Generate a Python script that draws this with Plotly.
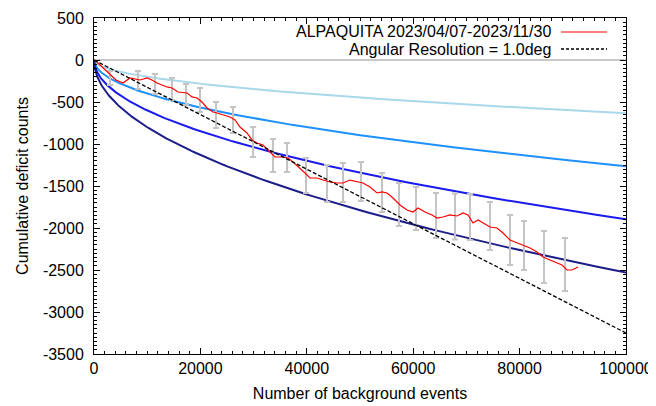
import numpy as np
import plotly.graph_objects as go

# ---- data ----
# Observed cumulative deficit (red)
obs_n = [0, 188, 1128, 2068, 3008, 4135, 5451, 6767, 8647, 9962, 10902, 11842, 12782,
         13722, 14662, 15789, 17481, 18421, 19361, 20301, 21241, 22368, 23120, 24248,
         25564, 26504, 27444, 28759, 29699, 30639, 31767, 32707, 34023, 35338, 36466,
         37406, 38722, 39662, 40602, 41917, 43045, 44361, 45677, 46805, 48120, 49436,
         50564, 51880, 53195, 54135, 55075, 56203, 57519, 58835, 59962, 60902, 62218,
         63534, 64474, 65602, 66917, 68233, 69361, 70301, 71241, 72180, 73120, 74436,
         75752, 76880, 78195, 79511, 80639, 81955, 83271, 84398, 85714, 87030, 87970,
         88910, 89850, 90977]
obs_def = [0, -5, -60, -119, -179, -238, -274, -214, -238, -214, -238, -274, -298,
           -321, -333, -381, -393, -440, -452, -500, -571, -619, -631, -655,
           -679, -714, -798, -869, -952, -988, -1012, -1071, -1155, -1155, -1167,
           -1214, -1286, -1345, -1405, -1405, -1429, -1452, -1464, -1464, -1429, -1452,
           -1464, -1512, -1583, -1571, -1583, -1643, -1726, -1786, -1810, -1762, -1810,
           -1845, -1881, -1869, -1845, -1857, -1821, -1845, -1940, -1905, -1940, -1988,
           -2000, -2060, -2143, -2179, -2202, -2238, -2286, -2345, -2381, -2417, -2440,
           -2500, -2500, -2464]

# Error bars (gray)
err_n = [3008, 8271, 11467, 14663, 17295, 19927, 22934, 26130, 29890, 33649, 36281,
         39852, 43800, 46807, 50191, 54138, 57334, 60530, 64290, 67861, 70681, 74441,
         78200, 80832, 84592, 88539]
err_c = [-214, -238, -286, -345, -411, -476, -655, -714, -976, -1137, -1161,
         -1375, -1470, -1458, -1446, -1577, -1720, -1768, -1851, -1863, -1869, -1976,
         -2143, -2208, -2345, -2435]
err_h = [83, 107, 119, 131, 125, 143, 155, 155, 179, 196, 173,
         208, 220, 232, 232, 232, 256, 256, 268, 274, 274, 286,
         298, 292, 310, 315]

# Expected deficit for angular resolution 1.0 deg (dashed line)
exp_n = [0, 100000]
exp_def = [0, -3250]

# Significance curves: -k * sqrt(N)
sigma_levels = [2, 4, 6, 8]
sigma_colors = ["#a8d8ea", "#1e90ff", "#1a1aee", "#1c1c8a"]

zero_n = [0, 100000]
zero_v = [0, 0]

legend_labels = ["ALPAQUITA 2023/04/07-2023/11/30", "Angular Resolution = 1.0deg"]

y_tick_vals = [500, 0, -500, -1000, -1500, -2000, -2500, -3000, -3500]
y_tick_text = ["500", "0", "-500", "-1000", "-1500", "-2000", "-2500", "-3000", "-3500"]
x_tick_vals = [0, 20000, 40000, 60000, 80000, 100000]
x_tick_text = ["0", "20000", "40000", "60000", "80000", "100000"]

# ---- figure ----
FONT = "Liberation Sans, Arial, Helvetica, sans-serif"
fig = go.Figure()

fig.add_trace(go.Scatter(x=zero_n, y=zero_v, mode="lines",
                         line=dict(color="#c8c8c8", width=2), showlegend=False))

grid = np.concatenate([[0.0], np.geomspace(1, 100000, 400)])
for k, c in zip(sigma_levels, sigma_colors):
    fig.add_trace(go.Scatter(x=grid, y=-k * np.sqrt(grid), mode="lines",
                             line=dict(color=c, width=2), showlegend=False))

fig.add_trace(go.Scatter(x=err_n, y=err_c, mode="markers",
                         marker=dict(size=1, color="rgba(0,0,0,0)"),
                         error_y=dict(type="data", array=err_h, visible=True,
                                      color="#c4c4c4", thickness=2, width=3),
                         showlegend=False))

fig.add_trace(go.Scatter(x=obs_n, y=obs_def, mode="lines",
                         line=dict(color="#ff0000", width=1.2), showlegend=False))

fig.add_trace(go.Scatter(x=exp_n, y=exp_def, mode="lines",
                         line=dict(color="#000000", width=1.3, dash="4px,2px"),
                         showlegend=False))

# page body has an 8px margin, so the figure is drawn 8px smaller and offset
OFF = 8
W, H = 656 - OFF, 406 - OFF
L, T = 94 - OFF, 18 - OFF
pw, ph = 532, 336
R, B = W - L - pw, H - T - ph

def px2paper(px, py):
    return (px - OFF - L) / pw, 1 - (py - OFF - T) / ph

legend_rows = [(32, "#ff0000", "solid", 1.2), (49, "#000000", "3px,2px", 1.3)]
for (py, col, dash, lw), txt in zip(legend_rows, legend_labels):
    xt, yt = px2paper(553, py)
    fig.add_annotation(x=xt, y=yt, xref="paper", yref="paper", text=txt,
                       showarrow=False, xanchor="right", yanchor="middle",
                       font=dict(family=FONT, size=16, color="#000"))
    x0, y0 = px2paper(561, py)
    x1, _ = px2paper(607, py)
    fig.add_shape(type="line", xref="paper", yref="paper", x0=x0, x1=x1, y0=y0, y1=y0,
                  line=dict(color=col, width=lw, dash=dash))

axis_common = dict(showline=True, linecolor="#000", linewidth=1, mirror="allticks",
                   ticks="inside", ticklen=6, tickcolor="#000", showgrid=False,
                   zeroline=False, automargin=False,
                   tickfont=dict(family=FONT, size=16, color="#000"))

fig.update_xaxes(range=[0, 100000], tickmode="array", tickvals=x_tick_vals,
                 ticktext=x_tick_text,
                 minor=dict(dtick=2000, tick0=0, ticks="inside", ticklen=3, tickcolor="#000"),
                 title=dict(text="Number of background events",
                            font=dict(family=FONT, size=16, color="#000"), standoff=11),
                 **axis_common)
fig.update_yaxes(range=[-3500, 500], tickmode="array", tickvals=y_tick_vals,
                 ticktext=y_tick_text,
                 minor=dict(dtick=50, tick0=0, ticks="inside", ticklen=3, tickcolor="#000"),
                 title=dict(text="Cumulative deficit counts",
                            font=dict(family=FONT, size=16, color="#000"), standoff=10),
                 ticklabelstandoff=6,
                 **axis_common)

fig.update_layout(width=W, height=H, margin=dict(l=L, r=R, t=T, b=B),
                  paper_bgcolor="white", plot_bgcolor="white", showlegend=False,
                  font=dict(family=FONT, size=16, color="#000"))

fig.write_html("out.html")
